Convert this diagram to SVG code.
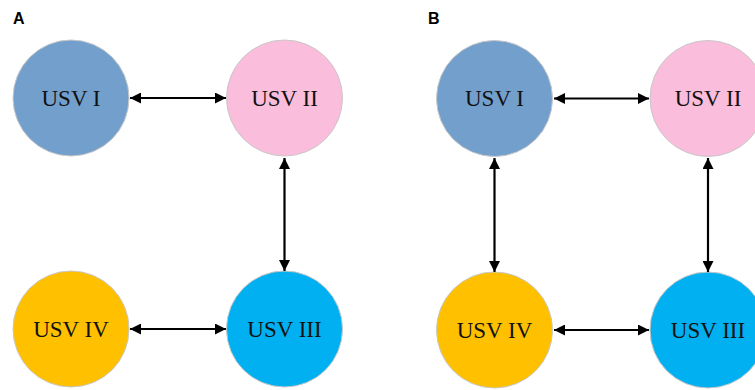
<svg xmlns="http://www.w3.org/2000/svg" width="755" height="390" viewBox="0 0 755 390">
<defs>
<marker id="ah" viewBox="0 0 10 10" refX="10" refY="5" markerWidth="5" markerHeight="5" orient="auto-start-reverse" markerUnits="strokeWidth">
<path d="M0,0 L10,5 L0,10 Z" fill="#000"/>
</marker>
<style>
.n{stroke:#c8c8c8;stroke-width:1}
.t{font-family:"Liberation Serif","Times New Roman",serif;font-size:23px;fill:#111;text-anchor:middle;dominant-baseline:central}
.p{font-family:"Liberation Sans",Arial,sans-serif;font-size:16px;font-weight:bold;fill:#000}
.c line{stroke:#000;stroke-width:2.2;marker-start:url(#ah);marker-end:url(#ah)}
</style>
</defs>
<rect width="755" height="390" fill="#fff"/>
<text class="p" x="13" y="24">A</text>
<text class="p" x="428" y="24">B</text>
<g id="a-usv1"><circle class="n" cx="71" cy="98" r="58" fill="#739fcc"/><text class="t" x="71" y="98">USV I</text></g>
<g id="a-usv2"><circle class="n" cx="284.5" cy="98" r="58" fill="#fabddc"/><text class="t" x="284.5" y="98">USV II</text></g>
<g id="a-usv3"><circle class="n" cx="284.5" cy="329" r="58" fill="#00b0f0"/><text class="t" x="284.5" y="329">USV III</text></g>
<g id="a-usv4"><circle class="n" cx="71" cy="329" r="58" fill="#ffc000"/><text class="t" x="71" y="329">USV IV</text></g>
<g id="b-usv1"><circle class="n" cx="494.5" cy="98.5" r="58" fill="#739fcc"/><text class="t" x="494.5" y="98.5">USV I</text></g>
<g id="b-usv2"><circle class="n" cx="708" cy="98.5" r="58" fill="#fabddc"/><text class="t" x="708" y="98.5">USV II</text></g>
<g id="b-usv3"><circle class="n" cx="708" cy="330" r="58" fill="#00b0f0"/><text class="t" x="708" y="330">USV III</text></g>
<g id="b-usv4"><circle class="n" cx="494.5" cy="330" r="58" fill="#ffc000"/><text class="t" x="494.5" y="330">USV IV</text></g>
<g id="connectors" class="c">
<line x1="130" y1="98" x2="226" y2="98"/>
<line x1="284.5" y1="158" x2="284.5" y2="271"/>
<line x1="130" y1="329" x2="226" y2="329"/>
<line x1="554" y1="98.5" x2="649" y2="98.5"/>
<line x1="494.5" y1="158" x2="494.5" y2="272"/>
<line x1="708" y1="158" x2="708" y2="272"/>
<line x1="554" y1="330" x2="649" y2="330"/>
</g>
</svg>
